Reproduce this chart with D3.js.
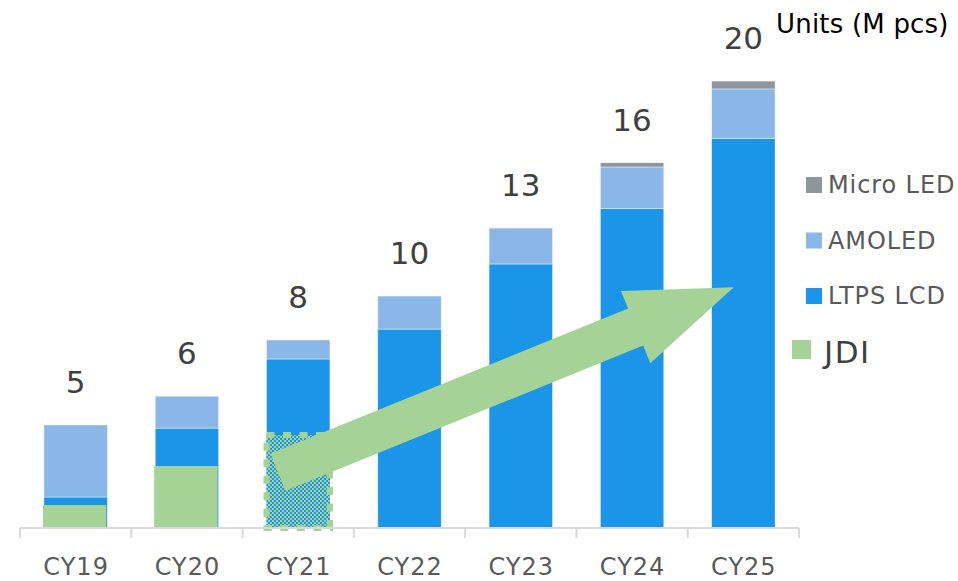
<!DOCTYPE html>
<html>
<head>
<meta charset="utf-8">
<script src="https://cdn.jsdelivr.net/npm/d3@7"></script>
<style>
  body { margin: 0; background: #fff; }
  text { font-family: "DejaVu Sans", Verdana, sans-serif; }
</style>
</head>
<body>
<div id="chart"></div>
<script>
// data (M pcs)
var years = ["CY19", "CY20", "CY21", "CY22", "CY23", "CY24", "CY25"];
var ltpsLcd = [1.39, 4.48, 7.58, 8.92, 11.84, 14.32, 17.46];
var amoled = [3.23, 1.43, 0.85, 1.48, 1.61, 1.87, 2.23];
var microLed = [0, 0, 0, 0, 0, 0.19, 0.35];
var jdi = [1.03, 2.78, 4.17, null, null, null, null];
var jdiPlanned = [false, false, true, false, false, false, false];
var totalLabels = ["5", "6", "8", "10", "13", "16", "20"];

var seriesKeys = ["LTPS LCD", "AMOLED", "Micro LED"];
var colors = { "LTPS LCD": "#1b95e8", "AMOLED": "#8ab6e8", "Micro LED": "#8c969c", "JDI": "#a5d296" };

var W = 958, H = 581;
var svg = d3.select("#chart").append("svg")
    .attr("width", W)
    .attr("height", H);

// checker fill for the planned JDI bar
var defs = svg.append("defs");
var pat = defs.append("pattern")
    .attr("id", "checker")
    .attr("width", 4).attr("height", 4)
    .attr("patternUnits", "userSpaceOnUse");
pat.append("rect").attr("width", 4).attr("height", 4).attr("fill", colors["LTPS LCD"]);
pat.append("rect").attr("width", 2).attr("height", 2).attr("fill", colors["JDI"]);
pat.append("rect").attr("x", 2).attr("y", 2).attr("width", 2).attr("height", 2).attr("fill", colors["JDI"]);

var x = d3.scaleBand()
    .domain(years)
    .range([20, 799])
    .paddingInner(0.43)
    .paddingOuter(0.215);

var y = d3.scaleLinear()
    .domain([0, 20])
    .range([528, 82]);

var rows = years.map(function (d, i) {
    return { year: d, "LTPS LCD": ltpsLcd[i], "AMOLED": amoled[i], "Micro LED": microLed[i] };
});
var stacked = d3.stack().keys(seriesKeys)(rows);

// stacked bars
svg.append("g")
    .selectAll("g")
    .data(stacked)
    .enter().append("g")
    .attr("fill", function (d) { return colors[d.key]; })
    .selectAll("rect")
    .data(function (d) { return d.filter(function (p) { return p[1] - p[0] > 0; }); })
    .enter().append("rect")
    .attr("x", function (d) { return x(d.data.year); })
    .attr("y", function (d) { return y(d[1]); })
    .attr("height", function (d) { return y(d[0]) - y(d[1]); })
    .attr("width", x.bandwidth())
    .attr("stroke", "#ffffff")
    .attr("stroke-opacity", 0.6)
    .attr("stroke-width", 0.7);

// JDI overlay bars
var jdiData = years.map(function (d, i) { return { year: d, v: jdi[i], planned: jdiPlanned[i] }; })
    .filter(function (d) { return d.v != null; });

svg.append("g")
    .selectAll("rect")
    .data(jdiData)
    .enter().append("rect")
    .attr("x", function (d) { return x(d.year) - (d.planned ? 0 : 1); })
    .attr("y", function (d) { return y(d.v); })
    .attr("width", x.bandwidth())
    .attr("height", function (d) { return y(0) - y(d.v); })
    .attr("fill", function (d) { return d.planned ? "url(#checker)" : colors["JDI"]; })
    .attr("stroke", function (d) { return d.planned ? colors["JDI"] : "none"; })
    .attr("stroke-width", 6)
    .attr("stroke-dasharray", "8,8.5");

// x axis
var axis = svg.append("g")
    .attr("transform", "translate(0,528)");
axis.append("line")
    .attr("x1", 20).attr("x2", 799)
    .attr("stroke", "#d9d9d9").attr("stroke-width", 2);
var bounds = years.map(function (d) { return x(d) - x.step() * x.paddingInner() / 2; });
bounds.push(799);
axis.selectAll(".tick")
    .data(bounds)
    .enter().append("line")
    .attr("x1", function (d) { return d; })
    .attr("x2", function (d) { return d; })
    .attr("y1", 0).attr("y2", 10)
    .attr("stroke", "#d9d9d9").attr("stroke-width", 2);
axis.selectAll(".lbl")
    .data(years)
    .enter().append("text")
    .attr("x", function (d) { return x(d) + x.bandwidth() / 2 + 0.5; })
    .attr("y", 47)
    .attr("text-anchor", "middle")
    .attr("font-size", 24)
    .attr("letter-spacing", 1)
    .attr("fill", "#595959")
    .text(function (d) { return d; });

// totals above bars
svg.append("g")
    .selectAll("text")
    .data(years)
    .enter().append("text")
    .attr("x", function (d) { return x(d) + x.bandwidth() / 2; })
    .attr("y", function (d, i) { return y(ltpsLcd[i] + amoled[i] + microLed[i]) - 32; })
    .attr("text-anchor", "middle")
    .attr("font-size", 31)
    .attr("fill", "#404040")
    .text(function (d, i) { return totalLabels[i]; });

// growth arrow (annotation)
var arrowFrom = { year: "CY21", frac: 0.18, value: 2.5 };
var arrowTo = { year: "CY25", frac: 0.35, value: 10.8 };
var ax0 = x(arrowFrom.year) + x.bandwidth() * arrowFrom.frac, ay0 = y(arrowFrom.value);
var ax1 = x(arrowTo.year) + x.bandwidth() * arrowTo.frac, ay1 = y(arrowTo.value);
var len = Math.hypot(ax1 - ax0, ay1 - ay0);
var dx = (ax1 - ax0) / len, dy = (ay1 - ay0) / len;
var nx = -dy, ny = dx;
var shaftW = 20, headW = 39, headL = 106;
var bx = ax1 - dx * headL, by = ay1 - dy * headL;
var pts = [
    [ax0 + nx * shaftW, ay0 + ny * shaftW],
    [bx + nx * shaftW, by + ny * shaftW],
    [bx + nx * headW, by + ny * headW],
    [ax1, ay1],
    [bx - nx * headW, by - ny * headW],
    [bx - nx * shaftW, by - ny * shaftW],
    [ax0 - nx * shaftW, ay0 - ny * shaftW]
];
svg.append("path")
    .attr("d", d3.line()(pts) + "Z")
    .attr("fill", colors["JDI"]);

// legend
var legendItems = [
    { key: "Micro LED", y: 193 },
    { key: "AMOLED", y: 248.5 },
    { key: "LTPS LCD", y: 304 }
];
var lg = svg.append("g");
lg.selectAll("rect")
    .data(legendItems)
    .enter().append("rect")
    .attr("x", 806)
    .attr("y", function (d) { return d.y - 16; })
    .attr("width", 16).attr("height", 16)
    .attr("fill", function (d) { return colors[d.key]; });
lg.selectAll("text")
    .data(legendItems)
    .enter().append("text")
    .attr("x", 828)
    .attr("y", function (d) { return d.y; })
    .attr("font-size", 24)
    .attr("letter-spacing", 0.9)
    .attr("fill", "#595959")
    .text(function (d) { return d.key; });

lg.append("rect")
    .attr("x", 792).attr("y", 340)
    .attr("width", 19).attr("height", 19)
    .attr("fill", colors["JDI"]);
lg.append("text")
    .attr("x", 824).attr("y", 363)
    .attr("font-size", 31)
    .attr("letter-spacing", 1.5)
    .attr("fill", "#404040")
    .text("JDI");

svg.append("text")
    .attr("x", 776).attr("y", 33)
    .attr("font-size", 26)
    .attr("letter-spacing", 0.2)
    .attr("fill", "#000")
    .text("Units (M pcs)");
</script>
</body>
</html>
